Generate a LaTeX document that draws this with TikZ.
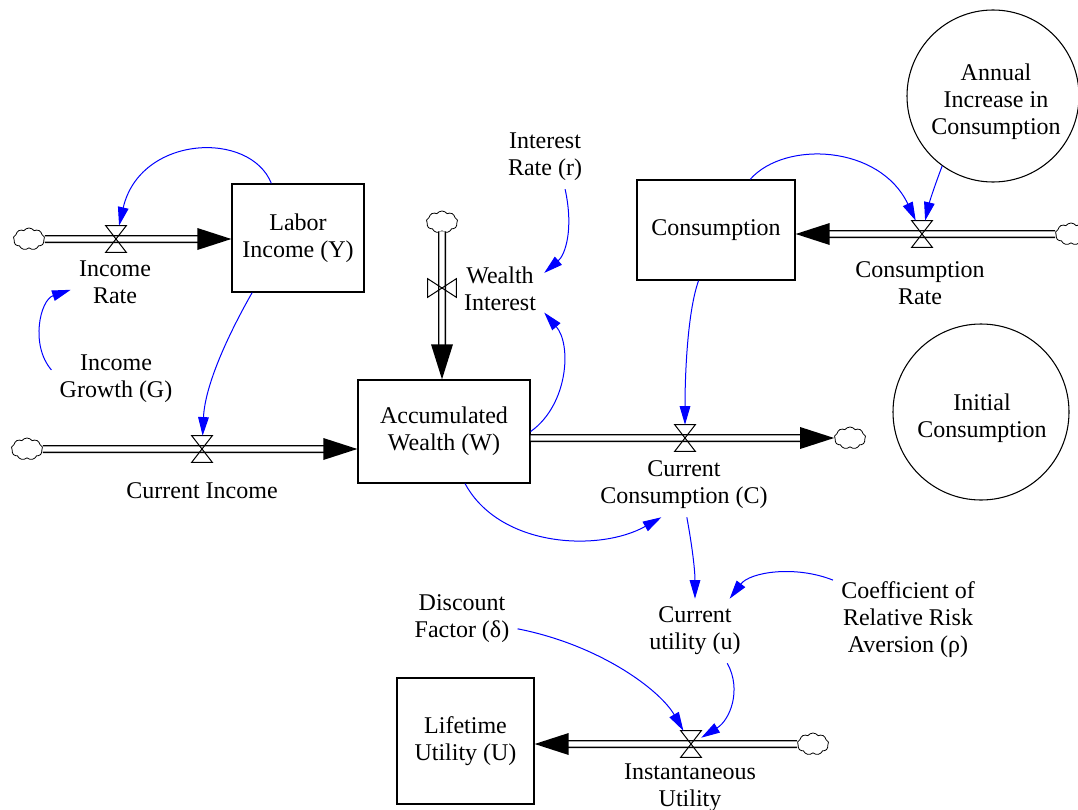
\documentclass[tikz,border=0pt]{standalone}
\usepackage{fontspec}
\setmainfont{Liberation Serif}
\usetikzlibrary{shapes.symbols, arrows.meta, calc}
\begin{document}
\begin{tikzpicture}[x=0.75pt, y=-0.75pt,
  every node/.style={font=\fontsize{18}{20.25}\selectfont, align=center},
  stock/.style={draw, line width=1pt, rectangle, inner sep=0pt},
  auxc/.style={draw, circle, line width=0.8pt, inner sep=0pt},
  lbl/.style={inner sep=6pt},
  cloudy/.style={cloud, draw, cloud puffs=9, cloud puff arc=110, aspect=1.5, minimum width=23.5pt, minimum height=16.5pt, inner sep=0pt, line width=0.6pt},
  valvebox/.style={rectangle, inner sep=0pt, minimum width=15pt, minimum height=19.5pt},
  hvalvebox/.style={rectangle, inner sep=0pt, minimum width=21pt, minimum height=13.5pt},
  valveline/.style={draw, line width=0.75pt},
  pipe/.style={draw, line width=1pt, double=white, double distance=4pt},
  pipeend/.style={pipe, shorten >=24pt},
  pipetip/.style={fill=black},
  link/.style={draw=blue, line width=0.75pt, -{Triangle[length=14pt,width=8pt]}},
]
\fill[white] (0,0) rectangle (1078,810);
\useasboundingbox (0,0) rectangle (1078,810);

% stocks
\node[stock, minimum width=99pt, minimum height=81pt] (labor) at (298,238) {Labor\\Income (Y)};
\node[stock, minimum width=129pt, minimum height=77.25pt] (wealth) at (444,431.5) {Accumulated\\Wealth (W)};
\node[stock, minimum width=118.5pt, minimum height=75pt] (cons) at (716,230) {Consumption};
\node[stock, minimum width=102.75pt, minimum height=94.5pt] (life) at (465.5,741) {Lifetime\\Utility (U)};
\node[auxc, minimum size=129pt] (annual) at (993,96) {};
\node[inner sep=0pt] (annualtext) at (996,102) {Annual\\Increase in\\Consumption};
\node[auxc, minimum size=132pt] (initial) at (981,412) {};
\node[inner sep=0pt] (initialtext) at (982,418) {Initial\\Consumption};

% clouds
\node[cloudy] (c1) at (29,239) {};
\node[cloudy] (c2) at (27,449) {};
\node[cloudy] (c3) at (442,222) {};
\node[cloudy] (c4) at (1071,234) {};
\node[cloudy] (c5) at (850,438) {};
\node[cloudy] (c6) at (813,744) {};

% valves
\node[valvebox] (v1) at (116,239) {};
\node[valvebox] (v2) at (202,449) {};
\node[hvalvebox] (v3) at (442,288) {};
\node[valvebox] (v4) at (922,234) {};
\node[valvebox] (v5) at (685,438) {};
\node[valvebox] (v6) at (691,744) {};

% labels
\node[lbl] (ilabel) at (115,282) {Income\\Rate};
\node[lbl] (igrowth) at (116,379) {Income\\Growth (G)};
\node[lbl] (cilabel) at (202,491) {Current Income};
\node[lbl] (irate) at (545,157) {Interest\\Rate (r)};
\node[lbl] (wilabel) at (500,289) {Wealth\\Interest};
\node[lbl] (crlabel) at (920,283) {Consumption\\Rate};
\node[lbl] (ccl) at (684,485) {Current\\Consumption (C)};
\node[lbl] (cutil) at (695,631) {Current\\utility (u)};
\node[lbl] (coef) at (908,620) {Coefficient of\\Relative Risk\\Aversion (ρ)};
\node[lbl] (disc) at (462,619) {Discount\\Factor (δ)};
\node[lbl] (iulabel) at (690,788) {Instantaneous\\Utility};

% pipes
\draw[pipeend] (c1.east) -- (c1 -| labor.west);
\draw[pipeend] (c2.east) -- (c2 -| wealth.west);
\draw[pipeend] (c3.south) -- (c3 |- wealth.north);
\draw[pipeend] (c4.west) -- (c4 -| cons.east);
\draw[pipeend] (c5 -| wealth.east) -- (c5.west);
\draw[pipeend] (c6.west) -- (c6 -| life.east);

% pipe tips
\fill[pipetip] (c1 -| labor.west) -- ++(-34,-11) -- ++(0,22) -- cycle;
\fill[pipetip] (c2 -| wealth.west) -- ++(-34,-11) -- ++(0,22) -- cycle;
\fill[pipetip] (c3 |- wealth.north) -- ++(-11,-35) -- ++(22,0) -- cycle;
\fill[pipetip] (c4 -| cons.east) -- ++(34,-11) -- ++(0,22) -- cycle;
\fill[pipetip] (c5.west) -- ++(-34,-11) -- ++(0,22) -- cycle;
\fill[pipetip] (c6 -| life.east) -- ++(34,-11) -- ++(0,22) -- cycle;

% valve glyphs
\foreach \v in {v1,v2,v4,v5,v6}{
  \draw[valveline] (\v.north west) -- (\v.north east) -- (\v.south west) -- (\v.south east) -- cycle;
}
\draw[valveline] (v3.north west) -- (v3.south west) -- (v3.north east) -- (v3.south east) -- cycle;

% information links
\draw[link] (labor.116) .. controls (250,130) and (140,135) .. (v1);
\draw[link] (labor.230) .. controls (228,335) and (205,385) .. (v2);
\draw[link] (igrowth.172) .. controls (30,345) and (40,300) .. (ilabel.190);
\draw[link] (irate.-58) .. controls (574,230) and (565,255) .. (wilabel.20);
\draw[link] (wealth.east) .. controls (568,405) and (572,345) .. (wilabel.-28);
\draw[link] (cons.56) .. controls (785,140) and (880,145) .. (v4);
\draw[link] (annual.-126) .. controls (935,185) and (930,200) .. (v4);
\draw[link] (cons.-109) .. controls (688,310) and (685,370) .. (v5);
\draw[link] (wealth.-68) .. controls (500,548) and (600,552) .. (ccl.-125);
\draw[link] (ccl.-85) .. controls (692,545) and (695,570) .. (cutil);
\draw[link] (coef.152) .. controls (795,565) and (750,572) .. (cutil.43);
\draw[link] (disc.-10) .. controls (600,645) and (660,690) .. (v6);
\draw[link] (cutil.-45) .. controls (742,690) and (730,720) .. (v6);
\end{tikzpicture}
\end{document}
